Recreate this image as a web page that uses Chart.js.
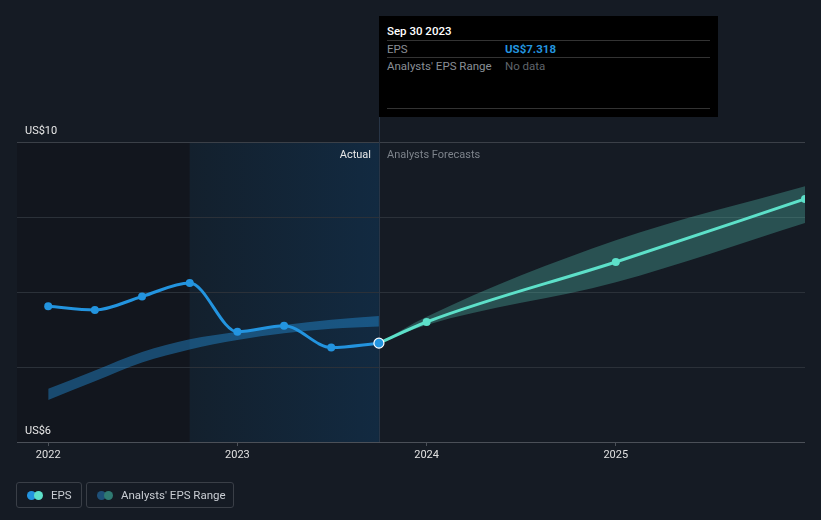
<!DOCTYPE html>
<html>
<head>
<meta charset="utf-8">
<script src="https://cdn.jsdelivr.net/npm/chart.js@4.4.1/dist/chart.umd.min.js"></script>
<style>
  html, body { margin: 0; padding: 0; background: #151b24; }
  #wrap { position: relative; width: 821px; height: 520px; overflow: hidden; font-family: Roboto, "Noto Sans", sans-serif; }
  canvas { position: absolute; left: 0; top: 0; }
  .tip { position: absolute; left: 379px; top: 16px; width: 339px; height: 101px; background: #000; }
  .tip .t { position: absolute; font-size: 11.5px; white-space: nowrap; line-height: 14px; }
  .tip .sep { position: absolute; left: 8px; width: 323px; height: 1px; background: #333; }
  .lbl { position: absolute; font-size: 11px; line-height: 14px; white-space: nowrap; }
  .leg { position: absolute; top: 482px; height: 26px; border: 1px solid #3a3f47; border-radius: 3px; box-sizing: border-box; }
  .leg .dot { position: absolute; top: 7.5px; width: 9px; height: 9px; border-radius: 50%; }
  .leg .txt { position: absolute; top: 5px; font-size: 11.5px; line-height: 14px; color: #c9cdd3; white-space: nowrap; }
</style>
</head>
<body>
<div id="wrap">
  <canvas id="c" width="821" height="520"></canvas>
  <div class="tip">
    <div class="t" style="left:8px;top:8px;color:#fff;font-weight:500;">Sep 30 2023</div>
    <div class="sep" style="top:24px;"></div>
    <div class="t" style="left:8px;top:26px;color:#8a8f96;">EPS</div>
    <div class="t" style="left:126px;top:26px;color:#2394df;font-weight:700;">US$7.318</div>
    <div class="sep" style="top:41px;"></div>
    <div class="t" style="left:8px;top:43px;color:#8a8f96;">Analysts' EPS Range</div>
    <div class="t" style="left:126px;top:43px;color:#5f646b;">No data</div>
    <div class="sep" style="top:92px;"></div>
  </div>
  <div class="lbl" style="right:450px;top:148px;color:#e8e8e8;">Actual</div>
  <div class="lbl" style="left:387px;top:148px;color:#7d838b;">Analysts Forecasts</div>
  <div class="leg" style="left:16px;width:66px;">
    <div class="dot" style="left:10px;background:#2394df;"></div>
    <div class="dot" style="left:17px;background:#5de0c9;"></div>
    <div class="txt" style="left:34px;">EPS</div>
  </div>
  <div class="leg" style="left:86px;width:148px;">
    <div class="dot" style="left:10px;background:#1e5078;"></div>
    <div class="dot" style="left:17px;background:#2f7a72;"></div>
    <div class="txt" style="left:34px;">Analysts' EPS Range</div>
  </div>
</div>
<script>
// ---------- data ----------
const actualDates = ['2021-12-31', '2022-03-31', '2022-06-30', '2022-09-30', '2022-12-31', '2023-03-31', '2023-06-30', '2023-09-30'];
const actualEps   = [7.81, 7.76, 7.94, 8.12, 7.47, 7.55, 7.26, 7.318];

const pastRangeLow  = [6.56, 6.81, 7.06, 7.235, 7.36, 7.45, 7.51, 7.54];
const pastRangeHigh = [6.71, 6.955, 7.20, 7.37, 7.47, 7.56, 7.63, 7.68];

const forecastDates = ['2023-09-30', '2023-12-31', '2024-12-31', '2025-12-31'];
const forecastEps   = [7.318, 7.60, 8.40, 9.24];
const forecastLow   = [7.318, 7.56, 8.13, 8.92];
const forecastHigh  = [7.318, 7.67, 8.69, 9.41];

const yearTicks = [2022, 2023, 2024, 2025];
const yTickLabels = { 6: 'US$6', 10: 'US$10' };
const shadeStartDate = '2022-09-30';
const actualEndDate = '2023-09-30';

// ---------- helpers ----------
function toYear(s) {
  const d = new Date(s + 'T00:00:00Z');
  const y = d.getUTCFullYear();
  const start = Date.UTC(y, 0, 1), end = Date.UTC(y + 1, 0, 1);
  return y + (d.getTime() - start) / (end - start) + 1 / 365;
}
const pts = (dates, vals) => dates.map((d, i) => ({ x: toYear(d), y: vals[i] }));

const BLUE = '#2394df', TEAL = '#5de0c9';

const bgPlugin = {
  id: 'bgShade',
  beforeDraw(chart) {
    const { ctx, chartArea: a, scales: { x } } = chart;
    const x1 = x.getPixelForValue(toYear(shadeStartDate));
    const x2 = x.getPixelForValue(toYear(actualEndDate));
    ctx.save();
    ctx.fillStyle = '#12161e';
    ctx.fillRect(a.left, a.top, x1 - a.left, a.bottom - a.top);
    const g = ctx.createLinearGradient(x1, 0, x2, 0);
    g.addColorStop(0, '#13202d');
    g.addColorStop(1, '#122a41');
    ctx.fillStyle = g;
    ctx.fillRect(x1, a.top, x2 - x1, a.bottom - a.top);
    ctx.restore();
  },
  beforeDatasetsDraw(chart) {
    const { ctx, chartArea: a, scales: { x } } = chart;
    const x2 = Math.round(x.getPixelForValue(toYear(actualEndDate))) + 0.5;
    ctx.save();
    ctx.strokeStyle = '#283546';
    ctx.lineWidth = 1;
    ctx.beginPath();
    ctx.moveTo(x2, 117);
    ctx.lineTo(x2, a.bottom);
    ctx.stroke();
    ctx.restore();
  }
};

Chart.defaults.font.family = 'Roboto, "Noto Sans", sans-serif';

const lastIdx = actualEps.length - 1;

new Chart(document.getElementById('c'), {
  type: 'line',
  data: {
    datasets: [
      { data: pts(actualDates, pastRangeHigh), borderWidth: 0, pointRadius: 0, fill: '+1',
        backgroundColor: 'rgba(35,148,223,0.42)', cubicInterpolationMode: 'monotone', order: 5 },
      { data: pts(actualDates, pastRangeLow), borderWidth: 0, pointRadius: 0, fill: false,
        cubicInterpolationMode: 'monotone', order: 5 },
      { data: pts(forecastDates, forecastHigh), borderWidth: 0, pointRadius: 0, fill: '+1',
        backgroundColor: 'rgba(93,224,201,0.28)', cubicInterpolationMode: 'monotone', order: 4 },
      { data: pts(forecastDates, forecastLow), borderWidth: 0, pointRadius: 0, fill: false,
        cubicInterpolationMode: 'monotone', order: 4 },
      { data: pts(forecastDates, forecastEps), borderColor: TEAL, borderWidth: 3, fill: false,
        pointRadius: forecastEps.map((v, i) => i === 0 ? 0 : 4), pointBackgroundColor: TEAL, pointBorderWidth: 0,
        cubicInterpolationMode: 'monotone', order: 1 },
      { data: pts(actualDates, actualEps), borderColor: BLUE, borderWidth: 3, fill: false,
        pointRadius: actualEps.map((v, i) => i === lastIdx ? 5 : 4),
        pointBackgroundColor: BLUE,
        pointBorderColor: actualEps.map((v, i) => i === lastIdx ? '#ffffff' : BLUE),
        pointBorderWidth: actualEps.map((v, i) => i === lastIdx ? 1.2 : 0),
        cubicInterpolationMode: 'monotone', order: 0 }
    ]
  },
  options: {
    responsive: false,
    animation: false,
    layout: { padding: { top: 142, right: 16, left: 0, bottom: 0 } },
    plugins: { legend: { display: false }, tooltip: { enabled: false } },
    events: [],
    scales: {
      x: {
        type: 'linear',
        min: 2021.835,
        max: 2026.0,
        afterFit(s) { s.height = 78; },
        afterBuildTicks(s) { s.ticks = yearTicks.map(v => ({ value: v })); },
        border: { display: false },
        grid: { display: true, drawOnChartArea: false, drawTicks: true, tickLength: 4, color: '#4b5058', lineWidth: 1 },
        ticks: { color: '#e0e0e0', font: { size: 11 }, padding: 3, maxRotation: 0, autoSkip: false,
          callback: v => String(v) }
      },
      y: {
        min: 6,
        max: 10,
        afterFit(s) { s.width = 17; },
        afterBuildTicks(s) { s.ticks = [6, 7, 8, 9, 10].map(v => ({ value: v })); },
        border: { display: false },
        grid: { drawTicks: false, lineWidth: 1,
          color: c => c.tick.value === 6 ? '#4b5058' : (c.tick.value === 10 ? '#3b4048' : '#2b3139') },
        ticks: { mirror: true, padding: 8, labelOffset: -11, color: '#e8e8e8', font: { size: 11 },
          callback: v => yTickLabels[v] || '' }
      }
    }
  },
  plugins: [bgPlugin]
});
</script>
</body>
</html>
